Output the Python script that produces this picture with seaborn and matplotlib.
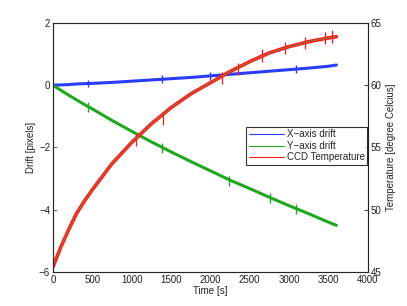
import matplotlib
matplotlib.use("Agg")
import matplotlib.pyplot as plt
import seaborn as sns
import pandas as pd

# ---- data ----
time_s = [0, 100, 200, 300, 400, 500, 750, 1000, 1250, 1500, 1750, 2000,
          2250, 2500, 2750, 3000, 3250, 3500, 3600]
x_drift = [0, 0.01, 0.02, 0.04, 0.05, 0.06, 0.09, 0.13, 0.17, 0.21, 0.25, 0.30,
           0.35, 0.40, 0.45, 0.50, 0.55, 0.61, 0.65]
y_drift = [0, -0.16, -0.32, -0.47, -0.62, -0.76, -1.13, -1.48, -1.82, -2.14, -2.45,
           -2.75, -3.05, -3.32, -3.60, -3.87, -4.13, -4.40, -4.50]
ccd_temp = [45.4, 47.0, 48.4, 49.7, 50.7, 51.6, 53.7, 55.4, 56.9, 58.2, 59.3, 60.2,
            61.1, 61.9, 62.6, 63.1, 63.5, 63.8, 63.9]
glitch_t_green = [450, 1390, 2240, 2760, 3090]
glitch_y_green = [-0.70, -2.02, -3.08, -3.62, -3.97]
glitch_t_blue = [450, 1390, 2000, 3090]
glitch_y_blue = [0.06, 0.20, 0.30, 0.52]
glitch_t_red = [1050, 1400, 2150, 2350, 2650, 2950, 3200, 3450, 3550]
glitch_y_red = [55.6, 57.3, 60.6, 61.3, 62.4, 63.0, 63.4, 63.8, 63.9]

x_ticks = [0, 500, 1000, 1500, 2000, 2500, 3000, 3500, 4000]
left_ticks = [-6, -4, -2, 0, 2]
right_ticks = [45, 50, 55, 60, 65]

df = pd.DataFrame({"t": time_s, "x": x_drift, "y": y_drift, "T": ccd_temp})

sns.set_style("white")
plt.rcParams["font.family"] = ["Liberation Sans", "DejaVu Sans"]
plt.rcParams["font.size"] = 7

fig = plt.figure(figsize=(4.07, 3.06), dpi=100)
ax = fig.add_axes([0.130, 0.111, 0.774, 0.814])
ax2 = ax.twinx()

blue = "#2a3dff"
green = "#1fa81f"
red = "#ff1a1a"

sns.lineplot(data=df, x="t", y="x", ax=ax, color=blue, lw=2.2, label="X\u2212axis drift", legend=False)
sns.lineplot(data=df, x="t", y="y", ax=ax, color=green, lw=2.2, label="Y\u2212axis drift", legend=False)
ax.vlines(glitch_t_green, [v - 0.16 for v in glitch_y_green], [v + 0.16 for v in glitch_y_green],
          color=green, lw=1.0)
ax.vlines(glitch_t_blue, [v - 0.12 for v in glitch_y_blue], [v + 0.12 for v in glitch_y_blue],
          color=blue, lw=1.0)

sns.lineplot(data=df, x="t", y="T", ax=ax2, color=red, lw=2.6, label="CCD Temperature", legend=False)
ax2.vlines(glitch_t_red, [v - 0.5 for v in glitch_y_red], [v + 0.5 for v in glitch_y_red],
           color=red, lw=0.9)
sns.lineplot(data=df, x="t", y="T", ax=ax2, color="#6f9a45", lw=0.5, legend=False)

ax.set_xlim(0, 4000)
ax.set_ylim(-6, 2)
ax2.set_ylim(45, 65)
ax.set_xticks(x_ticks)
ax.set_xticklabels([str(v) for v in x_ticks])
ax.set_yticks(left_ticks)
ax.set_yticklabels([str(v).replace("-", "\u2212") for v in left_ticks])
ax2.set_yticks(right_ticks)
ax2.set_yticklabels([str(v) for v in right_ticks])

ax.set_xlabel("Time [s]", fontsize=7, labelpad=1, color="#222222")
ax.set_ylabel("Drift [pixels]", fontsize=7, labelpad=2, color="#222222")
ax2.set_ylabel("Temperature [degree Celcius]", fontsize=7, labelpad=3, color="#222222")

for a in (ax, ax2):
    a.tick_params(direction="in", length=3, width=0.6, labelsize=7, pad=2, colors="#222222")
for s in ax.spines.values():
    s.set_color("#777777")
    s.set_linewidth(0.8)
ax2.spines["right"].set_color("#222222")
ax2.spines["right"].set_linewidth(0.8)
ax.tick_params(axis="both", color="#555555")

h1, l1 = ax.get_legend_handles_labels()
h2, l2 = ax2.get_legend_handles_labels()
leg = ax2.legend(h1 + h2, l1 + l2, loc="upper left", bbox_to_anchor=(0.614, 0.582),
                 fontsize=7, frameon=True, fancybox=False, edgecolor="black",
                 handlelength=3.6, handletextpad=0.3, borderpad=0.25, labelspacing=0.15,
                 borderaxespad=0)
leg.get_frame().set_linewidth(0.8)
for line in leg.get_lines():
    line.set_linewidth(0.8)

fig.savefig("out.png", dpi=100)
